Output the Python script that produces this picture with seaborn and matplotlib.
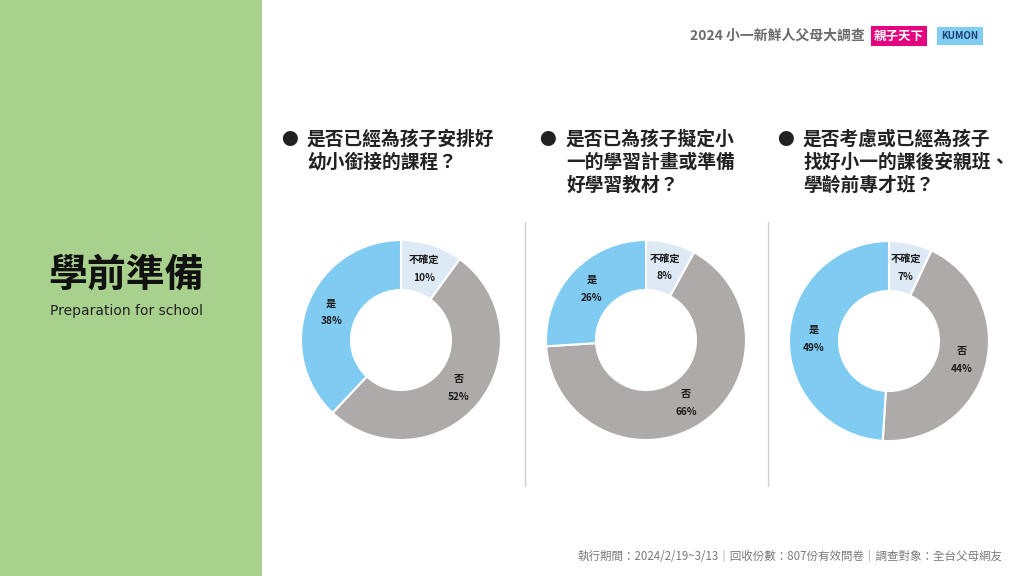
import matplotlib
matplotlib.use("Agg")
import matplotlib.pyplot as plt
import seaborn as sns
from matplotlib.patches import Rectangle
from matplotlib.lines import Line2D

# ----------------------------------------------------------------------
# DATA
# ----------------------------------------------------------------------
CATEGORIES = ["不確定", "否", "是"]
Q1_VALUES = [10, 52, 38]
Q2_VALUES = [8, 66, 26]
Q3_VALUES = [7, 44, 49]
QUESTIONS = [
    "是否已經為孩子安排好\n幼小銜接的課程？",
    "是否已為孩子擬定小\n一的學習計畫或準備\n好學習教材？",
    "是否考慮或已經為孩子\n找好小一的課後安親班、\n學齡前專才班？",
]

TITLE = "學前準備"
SUBTITLE = "Preparation for school"
HEADER = "2024 小一新鮮人父母大調查"
FOOTER = "執行期間：2024/2/19~3/13｜回收份數：807份有效問卷｜調查對象：全台父母網友"

# colours
GREEN = "#a8d18d"
COLORS = ["#ddeaf6", "#aeaaaa", "#7fcbf1"]

sns.set_theme(style="white")
plt.rcParams["font.family"] = ["Noto Sans CJK TC", "DejaVu Sans"]

W, H = 1024, 576
fig = plt.figure(figsize=(W / 100, H / 100), dpi=100)
fig.patch.set_facecolor("white")


def fx(x):
    return x / W


def fy(y):
    return 1 - y / H


# left green panel
fig.patches.append(Rectangle((0, 0), fx(262), 1, transform=fig.transFigure,
                             facecolor=GREEN, edgecolor="none", zorder=0))
fig.text(fx(126), fy(275), TITLE, ha="center", va="center", fontsize=28,
         fontweight="bold", color="#111111")
fig.text(fx(126), fy(311), SUBTITLE, ha="center", va="center", fontsize=10,
         color="#222222", family="DejaVu Sans")

# header + logos
fig.text(fx(865), fy(36), HEADER, ha="right", va="center", fontsize=10,
         color="#6b6b6b", fontweight="bold")
fig.text(fx(899), fy(36), "親子天下", ha="center", va="center", fontsize=9,
         color="white", fontweight="bold",
         bbox=dict(boxstyle="square,pad=0.25", facecolor="#e4007f", edgecolor="none"))
fig.text(fx(960), fy(36), "KUMON", ha="center", va="center", fontsize=7,
         color="#1d3b78", fontweight="bold",
         bbox=dict(boxstyle="square,pad=0.45", facecolor="#7fcdf0", edgecolor="none"))

# footer
fig.text(fx(1002), fy(557), FOOTER, ha="right", va="center", fontsize=8.3,
         color="#7a7a7a")

# separators
for sx in [525, 768]:
    fig.add_artist(Line2D([fx(sx), fx(sx)], [fy(222), fy(486)],
                          transform=fig.transFigure, color="#cfcfcf", linewidth=1))

# questions
bullet_x = [289, 547, 785]
text_x = [307, 566, 803]
for bx, tx, q in zip(bullet_x, text_x, QUESTIONS):
    fig.text(fx(bx), fy(140), "●", ha="center", va="center", fontsize=12,
             color="#222222")
    fig.text(fx(tx), fy(130), q, ha="left", va="top", fontsize=13.5,
             fontweight="bold", color="#222222", linespacing=1.25)

# donuts
centers = [(401, 340), (646, 340), (889, 341)]
radius = 100
for (cx, cy), vals in zip(centers, [Q1_VALUES, Q2_VALUES, Q3_VALUES]):
    half = radius * 1.1
    ax = fig.add_axes([fx(cx - half), fy(cy + half), 2 * half / W, 2 * half / H])
    labels = [f"{c}\n{v}%" for c, v in zip(CATEGORIES, vals)]
    wedges, texts = ax.pie(vals, labels=labels, colors=COLORS, startangle=90,
                           counterclock=False, labeldistance=0.75,
                           wedgeprops=dict(width=0.5, edgecolor="white", linewidth=1.5),
                           textprops=dict(fontsize=7.3, fontweight="bold",
                                          color="#1a1a1a", linespacing=2.0))
    for t in texts:
        t.set_ha("center")
        t.set_va("center")
    ax.set_xlim(-1.1, 1.1)
    ax.set_ylim(-1.1, 1.1)
    ax.set_aspect("equal")
    ax.axis("off")

fig.savefig("out.png", dpi=100)
